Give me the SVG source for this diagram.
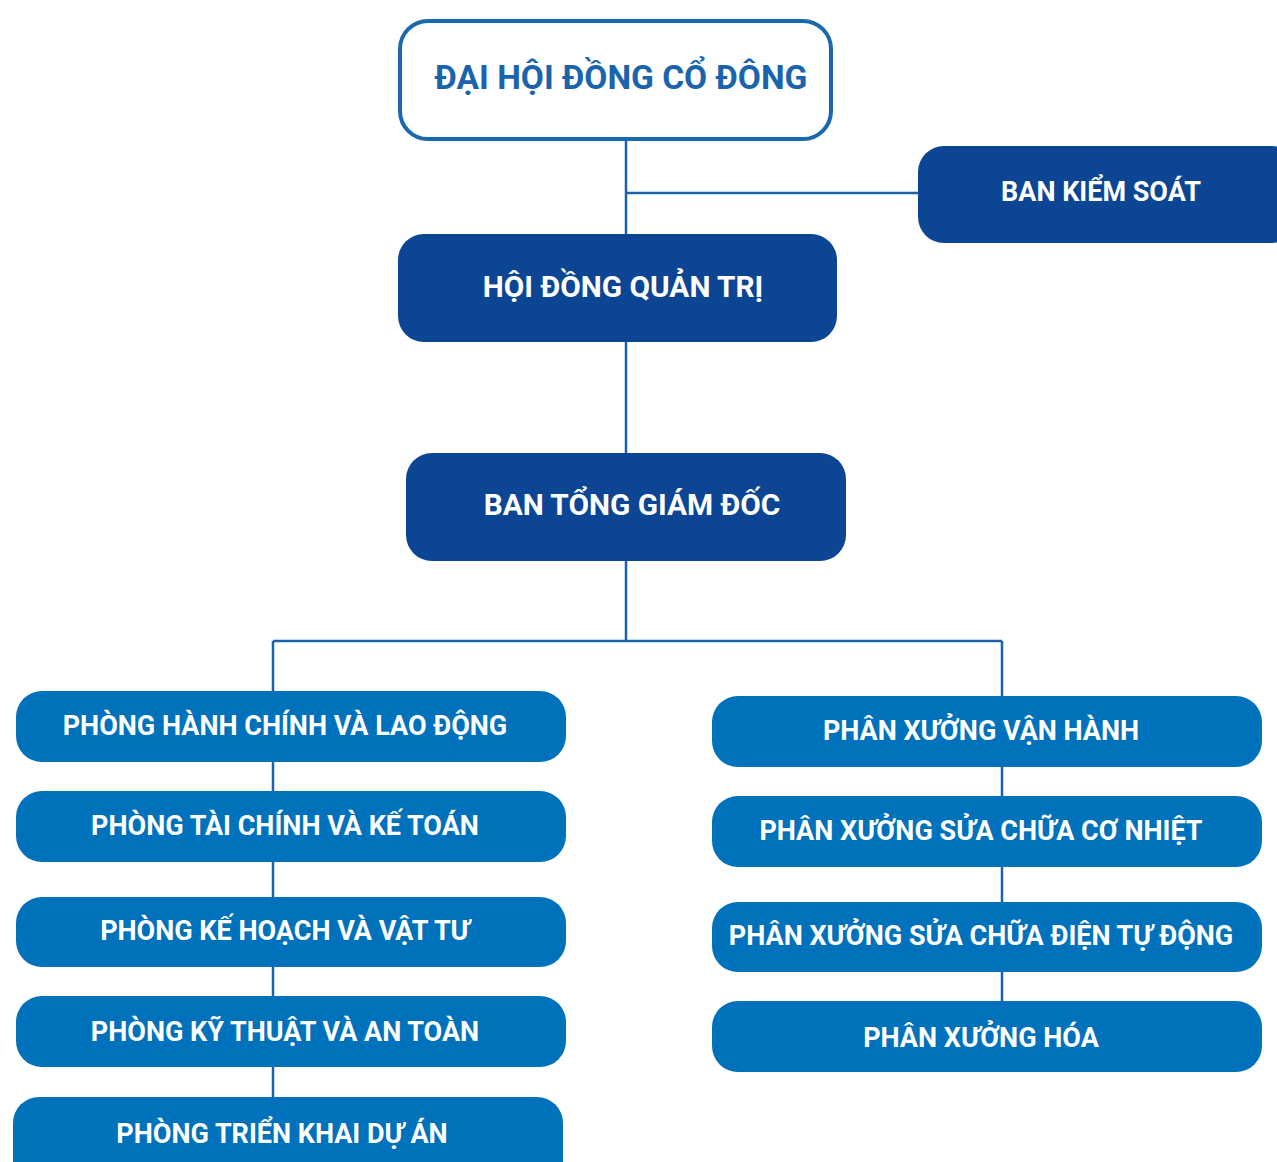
<svg xmlns="http://www.w3.org/2000/svg" width="1277" height="1162" viewBox="0 0 1277 1162">
<style>
.t{font-family:Roboto,"Liberation Sans",sans-serif;font-weight:bold;text-anchor:middle;fill:#fff;font-size:27px}
.dk{fill:#0c4594}
.md{fill:#0071bb}
.ln{stroke:#1a62aa;stroke-width:2.5;fill:none}
</style>
<rect width="1277" height="1162" fill="#fff"/>
<g id="connectors">
<path class="ln" d="M626 140V453M626 193H918M626 561V641M273 641H1002M273 641V1097M1002 641V1001"/>
</g>
<g id="n-dhdcd"><rect x="400" y="21" width="431" height="118" rx="28" fill="#fff" stroke="#1a68b0" stroke-width="4"/><text class="t" x="621" y="89" style="fill:#1a64ad;font-size:33.5px">ĐẠI HỘI ĐỒNG CỔ ĐÔNG</text></g>
<g id="n-bks"><rect class="dk" x="918" y="146" width="380" height="97" rx="26"/><text class="t" x="1101" y="201">BAN KIỂM SOÁT</text></g>
<g id="n-hdqt"><rect class="dk" x="398" y="234" width="439" height="108" rx="26"/><text class="t" x="623" y="297" style="font-size:29.8px">HỘI ĐỒNG QUẢN TRỊ</text></g>
<g id="n-btgd"><rect class="dk" x="406" y="453" width="440" height="108" rx="26"/><text class="t" x="632" y="515" style="font-size:29.8px">BAN TỔNG GIÁM ĐỐC</text></g>
<g id="n-l1"><rect class="md" x="16" y="691" width="550" height="71" rx="26"/><text class="t" x="285" y="735">PHÒNG HÀNH CHÍNH VÀ LAO ĐỘNG</text></g>
<g id="n-l2"><rect class="md" x="16" y="791" width="550" height="71" rx="26"/><text class="t" x="285" y="835">PHÒNG TÀI CHÍNH VÀ KẾ TOÁN</text></g>
<g id="n-l3"><rect class="md" x="16" y="897" width="550" height="70" rx="26"/><text class="t" x="285" y="940">PHÒNG KẾ HOẠCH VÀ VẬT TƯ</text></g>
<g id="n-l4"><rect class="md" x="16" y="996" width="550" height="71" rx="26"/><text class="t" x="285" y="1041">PHÒNG KỸ THUẬT VÀ AN TOÀN</text></g>
<g id="n-l5"><rect class="md" x="13" y="1097" width="550" height="90" rx="26"/><text class="t" x="282" y="1143">PHÒNG TRIỂN KHAI DỰ ÁN</text></g>
<g id="n-r1"><rect class="md" x="712" y="696" width="550" height="71" rx="26"/><text class="t" x="981" y="740">PHÂN XƯỞNG VẬN HÀNH</text></g>
<g id="n-r2"><rect class="md" x="712" y="796" width="550" height="71" rx="26"/><text class="t" x="981" y="840">PHÂN XƯỞNG SỬA CHỮA CƠ NHIỆT</text></g>
<g id="n-r3"><rect class="md" x="712" y="902" width="550" height="70" rx="26"/><text class="t" x="981" y="945">PHÂN XƯỞNG SỬA CHỮA ĐIỆN TỰ ĐỘNG</text></g>
<g id="n-r4"><rect class="md" x="712" y="1001" width="550" height="71" rx="26"/><text class="t" x="981" y="1047">PHÂN XƯỞNG HÓA</text></g>
</svg>
